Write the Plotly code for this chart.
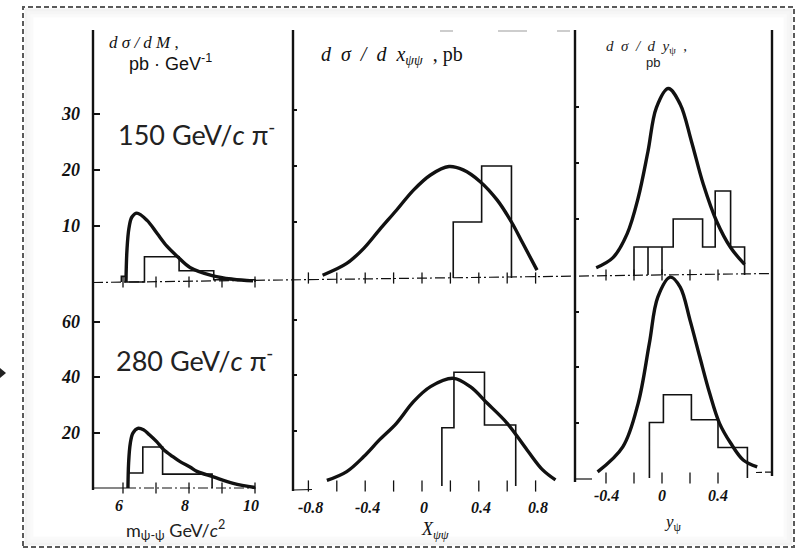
import plotly.graph_objects as go

# ---------------- data ----------------
# d(sigma)/dM, pb/GeV  (150 GeV/c)
mass150_curve_x = [6.09, 6.12, 6.18, 6.27, 6.42, 6.73, 7.03, 7.33, 7.64, 8.03, 8.73, 9.33, 9.94]
mass150_curve_y = [0.0, 5.7, 9.6, 11.6, 12.3, 11.0, 8.7, 6.4, 4.6, 2.6, 1.1, 0.5, 0.2]
mass150_hist_edges = [5.95, 6.1, 6.65, 7.7, 8.75, 10.0]
mass150_hist_vals = [1.0, 0.0, 4.5, 2.0, 0.4]

# d(sigma)/dM, pb/GeV  (280 GeV/c)
mass280_curve_x = [6.15, 6.17, 6.22, 6.3, 6.45, 6.62, 6.8, 7.02, 7.22, 7.5, 7.73, 8.03, 8.24, 8.74, 9.34, 10.0]
mass280_curve_y = [0.0, 9.0, 16.0, 19.8, 21.5, 21.0, 19.2, 16.7, 14.0, 11.4, 9.5, 7.6, 6.0, 4.0, 1.7, 0.2]
mass280_hist_edges = [6.15, 6.6, 7.2, 8.7]
mass280_hist_vals = [5.4, 14.8, 5.0]

# d(sigma)/dx_psipsi, pb
xpp150_curve_x = [-0.70, -0.53, -0.41, -0.30, -0.18, -0.06, 0.06, 0.19, 0.29, 0.41, 0.53, 0.63, 0.71, 0.81]
xpp150_curve_y = [0.5, 2.6, 5.3, 8.6, 12.1, 15.7, 18.4, 19.9, 19.3, 17.2, 13.9, 10.0, 6.2, 1.4]
xpp150_hist_edges = [0.22, 0.42, 0.63]
xpp150_hist_vals = [10.0, 20.0]

xpp280_curve_x = [-0.67, -0.53, -0.41, -0.30, -0.18, -0.06, 0.06, 0.22, 0.34, 0.46, 0.60, 0.74, 0.85, 0.94]
xpp280_curve_y = [2.0, 5.2, 10.6, 16.6, 22.6, 30.4, 35.8, 38.8, 35.8, 29.8, 22.6, 13.0, 5.8, 2.2]
xpp280_hist_edges = [0.14, 0.225, 0.44, 0.66]
xpp280_hist_vals = [21.0, 41.0, 22.0]

# d(sigma)/dy_psi, pb
ypsi150_curve_x = [-0.47, -0.35, -0.25, -0.17, -0.10, -0.04, 0.045, 0.13, 0.21, 0.295, 0.39, 0.49, 0.59]
ypsi150_curve_y = [1.3, 3.1, 7.3, 13.8, 22.1, 29.9, 33.3, 30.5, 23.9, 16.2, 9.6, 4.9, 1.9]
ypsi150_hist_edges = [-0.2, -0.1, 0.0, 0.08, 0.29, 0.38, 0.49, 0.59]
ypsi150_hist_vals = [5.0, 5.0, 5.0, 10.0, 5.0, 15.0, 5.0]

ypsi280_curve_x = [-0.46, -0.28, -0.17, -0.09, -0.03, 0.06, 0.13, 0.20, 0.27, 0.34, 0.41, 0.49, 0.58, 0.68]
ypsi280_curve_y = [2.2, 11.2, 27.0, 48.6, 65.2, 72.4, 68.8, 56.9, 43.6, 30.6, 19.8, 12.6, 6.5, 4.0]
ypsi280_hist_edges = [-0.09, 0.01, 0.21, 0.40, 0.61]
ypsi280_hist_vals = [20.0, 30.0, 21.0, 11.0]

# axis ticks and labels
mass_ticks = [6, 7, 8, 9, 10]
mass_ticklabels = {6: "6", 8: "8", 10: "10"}
xpp_ticks = [-0.8, -0.6, -0.4, -0.2, 0.0, 0.2, 0.4, 0.6, 0.8]
xpp_ticklabels = {-0.8: "-0.8", -0.4: "-0.4", 0.0: "0", 0.4: "0.4", 0.8: "0.8"}
ypsi_ticks = [-0.4, -0.2, 0.0, 0.2, 0.4]
ypsi_ticklabels = {-0.4: "-0.4", 0.0: "0", 0.4: "0.4"}
yticks_150 = [10, 20, 30]
yticks_280 = [20, 40, 60]

# ---------------- geometry ----------------
W, H = 796, 550


def fx(px):
    return px / W


def fy(py):
    return 1 - py / H


# pixel edges of each column and the pixel/value anchor of its x scale
columns = {
    "mass": dict(left=93, right=293, p0=123, v0=6.0, ppu=33.0, lshift=-4, ly=505),
    "xpp": dict(left=293, right=575, p0=422, v0=0.0, ppu=142.0, lshift=2, ly=507),
    "ypsi": dict(left=575, right=772, p0=662, v0=0.0, ppu=140.0, lshift=0, ly=495),
}
rows = {
    "150": dict(top=30, ppu=5.6, base={"mass": 282, "xpp": 278, "ypsi": 275}),
    "280": dict(top=270, ppu=2.775, base={"mass": 488, "xpp": 486, "ypsi": 478}),
}
PAD = 8

panels = [
    ("150", "mass", mass150_curve_x, mass150_curve_y, mass150_hist_edges, mass150_hist_vals, mass_ticks),
    ("150", "xpp", xpp150_curve_x, xpp150_curve_y, xpp150_hist_edges, xpp150_hist_vals, xpp_ticks),
    ("150", "ypsi", ypsi150_curve_x, ypsi150_curve_y, ypsi150_hist_edges, ypsi150_hist_vals, ypsi_ticks),
    ("280", "mass", mass280_curve_x, mass280_curve_y, mass280_hist_edges, mass280_hist_vals, mass_ticks),
    ("280", "xpp", xpp280_curve_x, xpp280_curve_y, xpp280_hist_edges, xpp280_hist_vals, xpp_ticks),
    ("280", "ypsi", ypsi280_curve_x, ypsi280_curve_y, ypsi280_hist_edges, ypsi280_hist_vals, ypsi_ticks),
]

INK = "#111111"
tick_font = dict(family="Liberation Serif", size=18, color=INK, weight=700, style="italic")
xtick_font = dict(family="Liberation Serif", size=16, color=INK, weight=700, style="italic")


def step_outline(edges, vals):
    xs, ys = [edges[0]], [0.0]
    for i, v in enumerate(vals):
        xs += [edges[i], edges[i + 1]]
        ys += [v, v]
    xs.append(edges[-1])
    ys.append(0.0)
    return xs, ys


fig = go.Figure()
layout = dict(
    width=W, height=H, margin=dict(l=0, r=0, t=0, b=0),
    paper_bgcolor="white", plot_bgcolor="rgba(0,0,0,0)", showlegend=False,
)
annotations = []

for n, (row, col, cx, cy, edges, vals, ticks) in enumerate(panels, start=1):
    c = columns[col]
    r = rows[row]
    base = r["base"][col]
    sfx = "" if n == 1 else str(n)
    xa, ya = "x" + sfx, "y" + sfx
    layout["xaxis" + sfx] = dict(
        domain=[fx(c["left"]), fx(c["right"])],
        range=[c["v0"] + (c["left"] - c["p0"]) / c["ppu"], c["v0"] + (c["right"] - c["p0"]) / c["ppu"]],
        visible=False, anchor=ya, fixedrange=True,
    )
    is_first_col = col == "mass"
    ytv = yticks_150 if row == "150" else yticks_280
    layout["yaxis" + sfx] = dict(
        domain=[fy(base + PAD), fy(r["top"])],
        range=[-PAD / r["ppu"], (base - r["top"]) / r["ppu"]],
        anchor=xa, showgrid=False, zeroline=False, showline=False,
        ticks="inside", ticklen=7 if is_first_col else 4, tickwidth=1.5, tickcolor=INK,
        tickvals=ytv, ticktext=[str(v) for v in ytv],
        showticklabels=is_first_col, tickfont=tick_font, ticklabelstandoff=12,
        fixedrange=True,
    )

    # histogram of events
    hx, hy = step_outline(edges, vals)
    fig.add_trace(go.Scatter(x=hx, y=hy, xaxis=xa, yaxis=ya, mode="lines",
                             line=dict(color=INK, width=1.6), hoverinfo="skip"))
    # internal bin walls where neighbouring bins have equal height
    wx, wy = [], []
    for i in range(1, len(vals)):
        if vals[i] == vals[i - 1] and vals[i] > 0:
            wx += [edges[i], edges[i], None]
            wy += [0.0, vals[i], None]
    if wx:
        fig.add_trace(go.Scatter(x=wx, y=wy, xaxis=xa, yaxis=ya, mode="lines",
                                 line=dict(color=INK, width=1.6), hoverinfo="skip"))
    # theoretical curve
    fig.add_trace(go.Scatter(x=cx, y=cy, xaxis=xa, yaxis=ya, mode="lines",
                             line=dict(color=INK, width=3.4, shape="spline", smoothing=1.0),
                             hoverinfo="skip"))
    # tick marks on the baseline
    fig.add_trace(go.Scatter(x=ticks, y=[0] * len(ticks), xaxis=xa, yaxis=ya, mode="markers",
                             marker=dict(symbol="line-ns", size=8, line=dict(color=INK, width=1.3)),
                             hoverinfo="skip", cliponaxis=False))

    # x tick labels for the lower row
    if row == "280":
        labels = {"mass": mass_ticklabels, "xpp": xpp_ticklabels, "ypsi": ypsi_ticklabels}[col]
        for v, t in labels.items():
            annotations.append(dict(x=v, xref=xa, y=fy(c["ly"]), yref="paper", text=t, showarrow=False,
                                    xanchor="center", yanchor="middle", xshift=c["lshift"],
                                    font=xtick_font))

# ---------------- texts ----------------
NB = "&nbsp;"
big_font = dict(family="Lato", size=27, color="#222222", weight=400)
texts = [
    dict(x=fx(116), y=fy(133), text="150 GeV/<i>c</i> π<sup>-</sup>", font=big_font),
    dict(x=fx(114), y=fy(359), text="280 GeV/<i>c</i> π<sup>-</sup>", font=big_font),
    dict(x=fx(124), y=fy(530), text="m<sub>ψ-ψ</sub> GeV/<i>c</i><sup>2</sup>",
         font=dict(family="Lato", size=18, color="#222222", weight=400)),
    # panel titles
    dict(x=fx(107), y=fy(43), text="<i>d σ / d M</i> ,",
         font=dict(family="Liberation Serif", size=17, color=INK)),
    dict(x=fx(127), y=fy(62), text="pb · GeV<sup>-1</sup>",
         font=dict(family="Liberation Sans", size=18, color=INK)),
    dict(x=fx(319), y=fy(56),
         text=f"<i>d{NB} σ{NB} /{NB} d{NB} x</i><sub><i>ψψ</i></sub>{NB} , pb",
         font=dict(family="Liberation Serif", size=20, color=INK)),
    dict(x=fx(604), y=fy(47), text=f"<i>d{NB} σ{NB} /{NB} d{NB} y</i><sub>ψ</sub> {NB},",
         font=dict(family="Liberation Serif", size=15, color="#222222")),
    dict(x=fx(644), y=fy(63), text="pb",
         font=dict(family="Liberation Sans", size=13, color="#222222")),
    # axis titles of the lower middle / right panels
    dict(x=fx(419), y=fy(530), text="<i>X</i><sub><i>ψψ</i></sub>",
         font=dict(family="Liberation Serif", size=18, color=INK)),
    dict(x=fx(662), y=fy(523), text="<i>y</i><sub>ψ</sub>",
         font=dict(family="Liberation Serif", size=17, color=INK)),
]
for a in texts:
    a.update(xref="paper", yref="paper", showarrow=False, xanchor="left", yanchor="middle")
layout["annotations"] = annotations + texts

# ---------------- frame ----------------
shapes = []


def seg(x0, y0, x1, y1, width=2.4, color=INK, dash="solid"):
    shapes.append(dict(type="line", xref="paper", yref="paper",
                       x0=fx(x0), y0=fy(y0), x1=fx(x1), y1=fy(y1),
                       line=dict(color=color, width=width, dash=dash)))


# panel walls
seg(93, 30, 93, 490)
seg(293, 30, 293, 491)
seg(575, 30, 575, 482)
seg(772, 30, 772, 476)
# baselines
seg(93, 282.5, 772, 273.5, width=1.2, dash="10px,3px,2px,3px")
seg(93, 488, 126, 488, width=1.2)
seg(126, 488, 256, 488, width=1.2, dash="10px,3px,2px,3px")
seg(293, 490, 312, 489.5, width=1.2)
seg(575, 479, 592, 479, width=1.2)
seg(756, 472.5, 772, 472, width=1.2, dash="6px,3px")
# faint scan marks near the top
for a, b in [(440, 453), (498, 527), (557, 570)]:
    seg(a, 31, b, 31, width=1.5, color="#bdbdbd")

# soft shadow inside the dashed border
for inset, alpha in [(3, 0.05), (6, 0.035), (9, 0.02)]:
    shapes.append(dict(type="rect", xref="paper", yref="paper",
                       x0=fx(23 + inset), y0=fy(547 - inset), x1=fx(794 - inset), y1=fy(7 + inset),
                       line=dict(color=f"rgba(0,0,0,{alpha})", width=3)))
# dashed border
shapes.append(dict(type="rect", xref="paper", yref="paper",
                   x0=fx(23), y0=fy(547), x1=fx(794), y1=fy(7),
                   line=dict(color="#5a5a5a", width=2, dash="5px,3px")))
# small arrow head at the left edge
shapes.append(dict(type="path", xref="paper", yref="paper",
                   path=f"M {fx(0)},{fy(368)} L {fx(6)},{fy(373)} L {fx(0)},{fy(378)} Z",
                   fillcolor="#222222", line=dict(width=0)))
layout["shapes"] = shapes

fig.update_layout(**layout)
fig.write_html("out.html")
